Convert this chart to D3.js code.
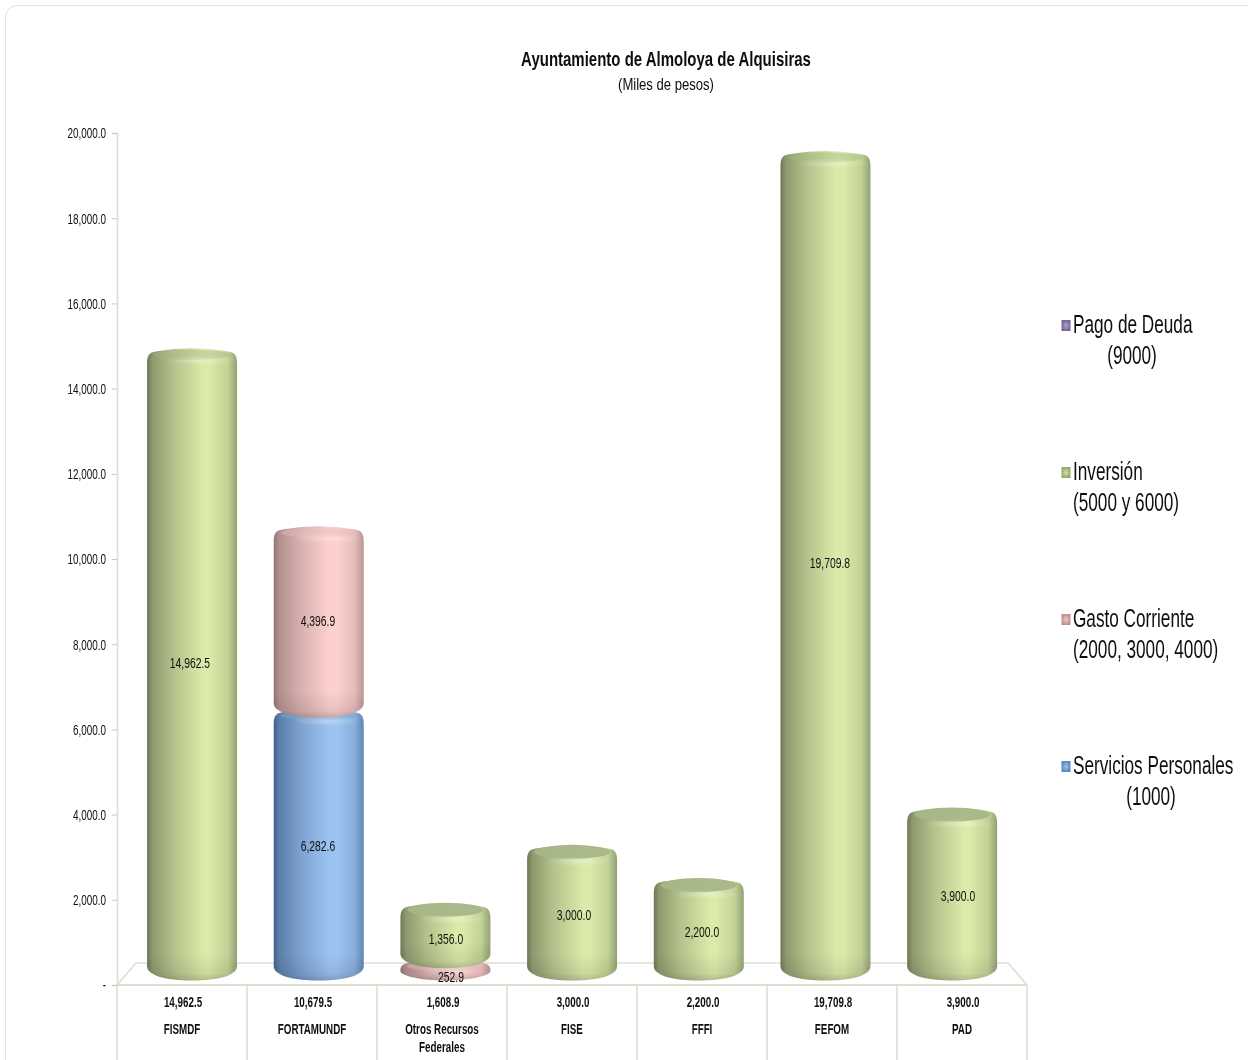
<!DOCTYPE html>
<html><head><meta charset="utf-8">
<script src="https://cdn.jsdelivr.net/npm/d3@7"></script>
<style>
html,body{margin:0;padding:0;background:#fff;overflow:hidden}
text{font-family:"Liberation Sans",Arial,sans-serif;fill:#111}
</style></head><body>
<svg id="c" width="1248" height="1060"></svg>
<script>
const categories=["FISMDF","FORTAMUNDF","Otros Recursos|Federales","FISE","FFFI","FEFOM","PAD"];
const totals=[14962.5,10679.5,1608.9,3000.0,2200.0,19709.8,3900.0];
const servicios=[0,6282.6,0,0,0,0,0];
const gasto=[0,4396.9,252.9,0,0,0,0];
const inversion=[14962.5,0,1356.0,3000.0,2200.0,19709.8,3900.0];
const pagoDeuda=[0,0,0,0,0,0,0];
const yTicks=[0,2000,4000,6000,8000,10000,12000,14000,16000,18000,20000];
const seriesKeys=["servicios","gasto","inversion","pago"];
const legendLabels=[["Pago de Deuda","(9000)"],["Inversión","(5000 y 6000)"],["Gasto Corriente","(2000, 3000, 4000)"],["Servicios Personales","(1000)"]];

const palette={
 servicios:{edge:"#40608a",mid:"#9cc4f2",cap:"#85a8d4",sw:"#5a86bc",swHi:"#9cc4f2"},
 gasto:{edge:"#917573",mid:"#fdd0ce",cap:"#e8bdbb",sw:"#bd8f8d",swHi:"#f0c8c6"},
 inversion:{edge:"#6b7854",mid:"#dbeaa9",cap:"#a6b688",sw:"#94a76c",swHi:"#d5e3a5"},
 pago:{edge:"#5c4a7c",mid:"#b3a2c7",cap:"#8a78a8",sw:"#75639a",swHi:"#b3a2c7"}
};
// condensed look: real text squeezed horizontally around its own anchor point
function narrow(sel,k){
  sel.each(function(){
    const x=+this.getAttribute("x")||0, y=+this.getAttribute("y")||0;
    this.setAttribute("x",0);
    this.setAttribute("y",0);
    this.setAttribute("transform",`translate(${x},${y}) scale(${k},1)`);
  });
  return sel;
}

const svg=d3.select("#c");
const defs=svg.append("defs");
seriesKeys.forEach(k=>{
  const p=palette[k], mix=d3.interpolateRgb(p.edge,p.mid);
  const g=defs.append("linearGradient").attr("id","body-"+k);
  [[0,p.edge],[.06,mix(.3)],[.3,mix(.66)],[.62,p.mid],[.7,p.mid],[.9,mix(.78)],[1,mix(.36)]]
   .forEach(s=>g.append("stop").attr("offset",s[0]).attr("stop-color",s[1]));
  const b=defs.append("radialGradient").attr("id","hi-"+k);
  b.append("stop").attr("offset",0).attr("stop-color","#fff").attr("stop-opacity",.3);
  b.append("stop").attr("offset",1).attr("stop-color","#fff").attr("stop-opacity",0);
  const sw=defs.append("radialGradient").attr("id","sw-"+k);
  sw.append("stop").attr("offset",0).attr("stop-color",p.swHi);
  sw.append("stop").attr("offset",1).attr("stop-color",p.sw);
});
const shade=defs.append("linearGradient").attr("id","shade").attr("x1",0).attr("x2",0).attr("y1",0).attr("y2",1);
shade.append("stop").attr("offset",0).attr("stop-color","#000").attr("stop-opacity",0);
shade.append("stop").attr("offset",.75).attr("stop-color","#000").attr("stop-opacity",.08);
shade.append("stop").attr("offset",1).attr("stop-color","#000").attr("stop-opacity",.2);
defs.append("filter").attr("id","soft").attr("x","-5%").attr("y","-5%").attr("width","110%").attr("height","110%")
  .append("feGaussianBlur").attr("stdDeviation",.6);
defs.append("filter").attr("id","softText").attr("x","-5%").attr("y","-20%").attr("width","110%").attr("height","140%")
  .append("feGaussianBlur").attr("stdDeviation",.3);

// card
svg.append("rect").attr("x",5.5).attr("y",5.5).attr("width",1260).attr("height",1070).attr("rx",12)
  .attr("fill","#fff").attr("stroke","#e4e4dc");

// title
const txt=svg.append("g").attr("filter","url(#softText)");
narrow(txt.append("text").attr("x",666).attr("y",66).attr("text-anchor","middle").attr("font-size",21).attr("font-weight",700).text("Ayuntamiento de Almoloya de Alquisiras"),.714);
narrow(txt.append("text").attr("x",666).attr("y",90).attr("text-anchor","middle").attr("font-size",17).text("(Miles de pesos)"),.77);

// scales
const axisY=d3.scaleLinear().domain([0,20000]).range([985,133]);
const barY=d3.scaleLinear().domain([0,20000]).range([975,144]);
const labelY=d3.scaleLinear().domain([0,20000]).range([978,135]);
const barX=d3.scaleBand().domain(categories).range([128.7,1015.5]);
const labelX=d3.scaleBand().domain(categories).range([126,1022]);
const tableX=d3.scaleBand().domain(categories).range([117,1027]);
const lineCol="#dcdfd0";

// floor
const x0=tableX.range()[0],x1=tableX.range()[1];
const floor=svg.append("g").attr("fill","none").attr("stroke",lineCol).attr("stroke-width",1.6);
floor.append("path").attr("d",d3.line()([[x0,985],[x0+19,963],[x1-19,963],[x1,985]]));
floor.append("line").attr("x1",x0).attr("x2",x1).attr("y1",985).attr("y2",985).attr("stroke-width",2);
floor.selectAll("line.v").data(categories.map(c=>tableX(c)).concat([x1])).join("line").attr("class","v")
  .attr("x1",d=>d).attr("x2",d=>d).attr("y1",985).attr("y2",1060);

// y axis
const axisG=svg.append("g").attr("transform","translate(117,0)")
  .call(d3.axisLeft(axisY).tickValues(yTicks).tickSize(5).tickPadding(6).tickFormat(d=>d===0?"-":d3.format(",.1f")(d)));
axisG.select(".domain").attr("stroke",lineCol).attr("stroke-width",1.6);
axisG.selectAll(".tick line").attr("stroke","#c8ccb8");
axisG.selectAll("text").attr("font-size",15).attr("fill","#111").attr("filter","url(#softText)");
narrow(axisG.selectAll("text"),.66);

// stacked cylinders
const rows=categories.map((c,i)=>({cat:c,servicios:servicios[i],gasto:gasto[i],inversion:inversion[i],pago:pagoDeuda[i]}));
const stacked=d3.stack().keys(seriesKeys)(rows);
const segs=[];
stacked.forEach(s=>s.forEach(d=>{if(d[1]-d[0]>0)segs.push({key:s.key,cat:d.data.cat,y0:d[0],y1:d[1]});}));
const bw=90;
function silhouette(L,R,T,B){
  const cx=(L+R)/2,h=B-T,d1=Math.min(10,h*.4),d2=Math.min(12,h*.5);
  return `M${L},${T+d1} C${L},${T+1} ${L+3},${T-1} ${L+10},${T-2} Q${cx},${T-8} ${R-10},${T-2} C${R-3},${T-1} ${R},${T+1} ${R},${T+d1}`+
   ` L${R},${B-d2} C${R},${B-3} ${R-18},${B+2.5} ${cx},${B+2.5} C${L+18},${B+2.5} ${L},${B-3} ${L},${B-d2} Z`;
}
const bars=svg.append("g").attr("filter","url(#soft)");
segs.forEach(s=>{
  const cx=barX(s.cat)+barX.bandwidth()/2, L=cx-bw/2,R=cx+bw/2;
  const T=barY(s.y1),B=barY(s.y0)+(s.y0===0?3:1);
  const g=bars.append("g");
  g.append("path").attr("d",silhouette(L,R,T,B)).attr("fill",`url(#body-${s.key})`);
  g.append("path").attr("d",silhouette(L,R,Math.max(T,B-20),B)).attr("fill","url(#shade)");
  const short=s.y1<5000&&s.key==="inversion";
  g.append("ellipse").attr("cx",cx).attr("cy",T+1.5).attr("rx",bw/2-7).attr("ry",short?7:5)
    .attr("fill",palette[s.key].cap).attr("opacity",short?.95:.4);
  g.append("ellipse").attr("cx",cx+8).attr("cy",T+(short?11:7)).attr("rx",36).attr("ry",5).attr("fill",`url(#hi-${s.key})`);
});

// value labels
const vals=svg.append("g").attr("filter","url(#softText)").attr("text-anchor","middle").attr("font-size",15);
segs.forEach(s=>{
  const small=s.y1-s.y0<500;
  const ym=small?982:labelY((s.y0+s.y1)/2)+5;
  narrow(vals.append("text").attr("x",labelX(s.cat)+labelX.bandwidth()/2+(small?5:0)).attr("y",ym).text(d3.format(",.1f")(s.y1-s.y0)),.69);
});

// table text
const tbl=svg.append("g").attr("filter","url(#softText)").attr("text-anchor","middle");
categories.forEach((c,i)=>{
  const cx=tableX(c)+tableX.bandwidth()/2;
  narrow(tbl.append("text").attr("x",cx+1).attr("y",1007).attr("font-size",15).attr("font-weight",700).text(d3.format(",.1f")(totals[i])),.655);
  c.split("|").forEach((ln,j)=>narrow(tbl.append("text").attr("x",cx).attr("y",1034+j*18).attr("font-size",15).attr("font-weight",700).text(ln),.655));
});

// legend
const legY=d3.scalePoint().domain(legendLabels.map(d=>d[0])).range([325,766]);
const swKeys=["pago","inversion","gasto","servicios"];
const legendAnchor=[1132,1073,1073,1151];
const leg=svg.append("g");
legendLabels.forEach((l,i)=>{
  const y=legY(l[0]);
  leg.append("rect").attr("x",1061.5).attr("y",y-5).attr("width",9).attr("height",11).attr("fill",`url(#sw-${swKeys[i]})`);
  narrow(leg.append("text").attr("filter","url(#softText)").attr("font-size",25).attr("x",1073).attr("y",y+8).text(l[0]),.688);
  const centered=legendAnchor[i]!==1073;
  narrow(leg.append("text").attr("filter","url(#softText)").attr("font-size",25).attr("x",legendAnchor[i]).attr("y",y+39)
    .attr("text-anchor",centered?"middle":"start").text(l[1]),.688);
});
</script></body></html>
